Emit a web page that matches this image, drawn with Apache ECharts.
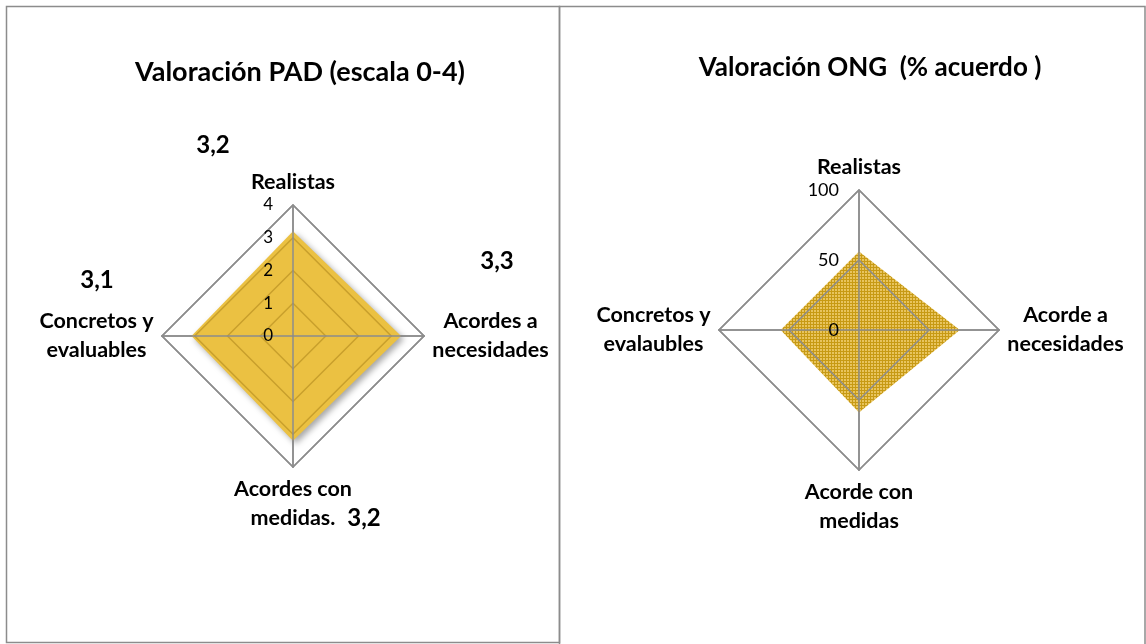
<!DOCTYPE html>
<html>
<head>
<meta charset="utf-8">
<script src="https://cdn.jsdelivr.net/npm/echarts@6/dist/echarts.min.js"></script>
<style>
html,body{margin:0;padding:0;background:#fff;}
#chart{width:1146px;height:644px;}
</style>
</head>
<body>
<div id="chart"></div>
<script>
// ---- data ----
const padTitle = 'Valoración PAD (escala 0-4)';
const padIndicators = ['Realistas', 'Acordes a\nnecesidades', 'Acordes con\nmedidas.', 'Concretos y\nevaluables'];
const padValues = [3.2, 3.3, 3.2, 3.1];
const padMin = 0, padMax = 4, padSplit = 4;

const ongTitle = 'Valoración ONG  (% acuerdo )';
const ongIndicators = ['Realistas', 'Acorde a\nnecesidades', 'Acorde con\nmedidas', 'Concretos y\nevalaubles'];
const ongValues = [56, 72, 59, 56];
const ongMin = 0, ongMax = 100, ongSplit = 2;

// ---- layout / style ----
const FONT = 'Lato, "Liberation Sans", sans-serif';
const HEAVY = 'bold';
const NAME_SIZE = 21.5;
const GREY = '#8c8c8c';
const ORDER = [0, 3, 2, 1]; // ECharts radar runs counter-clockwise from top
const padLabelPos = [[213, 145], [497, 261], [364, 518], [97, 280]];

function fmt(v) { return v.toFixed(1).replace('.', ','); }

function makePattern() {
  const c = document.createElement('canvas');
  c.width = 3; c.height = 3;
  const g = c.getContext('2d');
  g.fillStyle = '#E8C45E';
  g.fillRect(0, 0, 3, 3);
  g.fillStyle = '#C79A14';
  g.fillRect(0, 0, 3, 1);
  g.fillRect(0, 0, 1, 3);
  return c;
}

// centre each line of a multi-line axis name inside its block
function nameRich(names) {
  const ctx = document.createElement('canvas').getContext('2d');
  ctx.font = HEAVY + ' ' + NAME_SIZE + 'px ' + FONT;
  const rich = {};
  names.forEach((n, i) => {
    const w = Math.ceil(Math.max.apply(null, n.split('\n').map(l => ctx.measureText(l).width)));
    rich['n' + i] = { width: w, align: 'center', color: '#000', fontSize: NAME_SIZE, fontWeight: HEAVY, fontFamily: FONT, lineHeight: 29 };
  });
  return rich;
}

function baseRadar(center, radius, names, min, max, split) {
  return {
    center: center, radius: radius, startAngle: 90, shape: 'polygon',
    splitNumber: split, z: 0,
    indicator: ORDER.map(i => ({ name: names[i], min: min, max: max })),
    axisName: {
      color: '#000', fontSize: NAME_SIZE, fontWeight: HEAVY, fontFamily: FONT, lineHeight: 29,
      formatter: function (name) {
        const i = names.indexOf(name);
        return name.split('\n').map(l => '{n' + i + '|' + l + '}').join('\n');
      },
      rich: nameRich(names)
    },
    nameGap: 8,
    splitLine: { lineStyle: { color: GREY, width: 1.5 } },
    splitArea: { show: false },
    axisLine: { lineStyle: { color: GREY, width: 1.5 } },
    axisTick: { show: false },
    axisLabel: { show: false }
  };
}
function overlayRadar(center, radius, names, min, max, split, ringColors, labelSize) {
  return {
    center: center, radius: radius, startAngle: 90, shape: 'polygon',
    splitNumber: split, z: 5,
    indicator: ORDER.map((i, k) => ({ name: names[i], min: min, max: max, axisLabel: { show: k === 0 } })),
    axisName: { show: false },
    splitLine: { lineStyle: { color: ringColors, width: 1.5 } },
    splitArea: { show: false },
    axisLine: { lineStyle: { color: GREY, width: 1.5 } },
    axisTick: { show: false },
    axisLabel: { show: true, color: '#000', fontSize: labelSize, fontFamily: FONT, margin: 20 }
  };
}

const chart = echarts.init(document.getElementById('chart'), null, { renderer: 'canvas' });

const graphics = [
  { type: 'rect', shape: { x: 6.5, y: 6.5, width: 553, height: 636 }, style: { fill: null, stroke: GREY, lineWidth: 1.5 }, z: 100 },
  { type: 'rect', shape: { x: 559.5, y: 6.5, width: 585.5, height: 700 }, style: { fill: null, stroke: GREY, lineWidth: 1.5 }, z: 100 },
  { type: 'text', x: 300, y: 72, style: { text: padTitle, fill: '#000', font: HEAVY + ' 27px ' + FONT, textAlign: 'center', textVerticalAlign: 'middle' } },
  { type: 'text', x: 870, y: 68, style: { text: ongTitle, fill: '#000', font: HEAVY + ' 26px ' + FONT, textAlign: 'center', textVerticalAlign: 'middle' } }
];
padValues.forEach((v, i) => {
  graphics.push({ type: 'text', x: padLabelPos[i][0], y: padLabelPos[i][1],
    style: { text: fmt(v), fill: '#000', font: HEAVY + ' 24px ' + FONT, textAlign: 'center', textVerticalAlign: 'middle' } });
});

const option = {
  animation: false,
  backgroundColor: '#fff',
  radar: [
    baseRadar([293, 336], 131, padIndicators, padMin, padMax, padSplit),
    overlayRadar([293, 336], 131, padIndicators, padMin, padMax, padSplit,
      ['rgba(0,0,0,0)', '#C9A02C', '#C9A02C', '#C9A02C', GREY], 17),
    baseRadar([859, 330], 140, ongIndicators, ongMin, ongMax, ongSplit),
    overlayRadar([859, 330], 140, ongIndicators, ongMin, ongMax, ongSplit,
      ['rgba(0,0,0,0)', GREY, GREY], 18)
  ],
  series: [
    {
      type: 'radar', radarIndex: 0, symbol: 'none', z: 2,
      lineStyle: { width: 0, opacity: 0 },
      areaStyle: { color: '#EBC142', opacity: 1, shadowBlur: 6, shadowOffsetX: 3, shadowOffsetY: 3, shadowColor: 'rgba(0,0,0,0.35)' },
      data: [{ value: ORDER.map(i => padValues[i]), name: 'PAD' }]
    },
    {
      type: 'radar', radarIndex: 2, symbol: 'none', z: 2,
      lineStyle: { width: 0, opacity: 0 },
      areaStyle: { color: { image: makePattern(), repeat: 'repeat' }, opacity: 1 },
      data: [{ value: ORDER.map(i => ongValues[i]), name: 'ONG' }]
    }
  ],
  graphic: graphics
};
chart.setOption(option);
</script>
</body>
</html>
